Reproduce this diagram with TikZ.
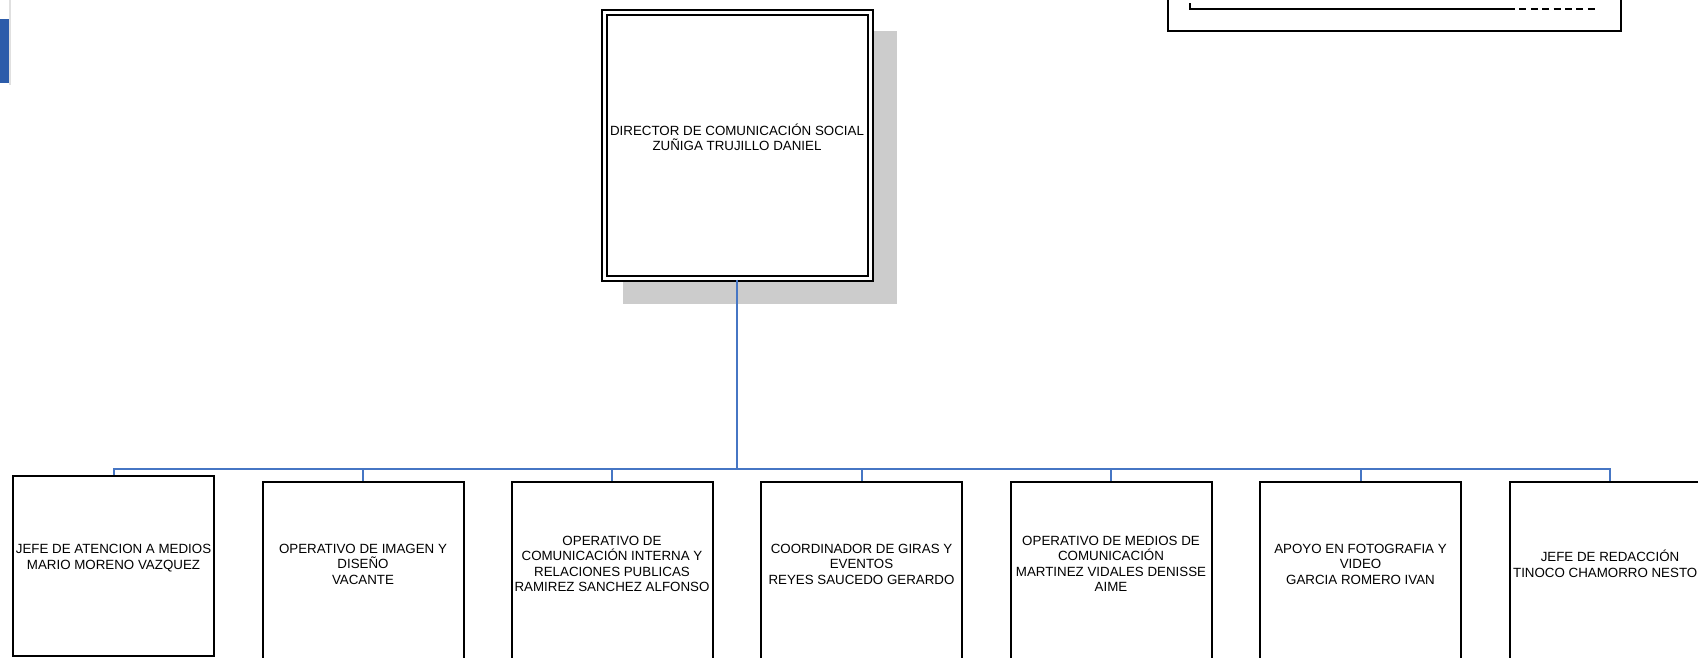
\documentclass[tikz,border=0pt]{standalone}
\usepackage{fontspec}
\setmainfont{Liberation Sans}
\usepackage{tikz}
\usetikzlibrary{calc}
\definecolor{linkblue}{RGB}{70,118,196}
\definecolor{accentblue}{RGB}{44,92,170}
\tikzset{
	postbox/.style={draw=black, fill=white, line width=1.5pt, inner sep=0pt,
		minimum width=150.75pt, minimum height=135pt, anchor=north},
	headbox/.style={draw=black, fill=white, line width=1.5pt, double=white, double distance=2.25pt,
		inner sep=0pt, minimum size=199.5pt},
	posttext/.style={align=center, font=\fontsize{10}{11.6}\selectfont, inner sep=0pt, yshift=6pt},
	link/.style={draw=linkblue, line width=1.5pt},
	legend/.style={draw=black, line width=1.4pt}
}

\begin{document}
\begin{tikzpicture}[x=0.75pt, y=-0.75pt]
		%%%%% START %%%%%
		\useasboundingbox (0, 0) rectangle (1698, 657);
		
		\fill[accentblue] (0, 19) rectangle (9, 83);
		\draw[line width=0.9pt, color=black!12] (10, 0) -- (10, 85);
		
		\draw[legend] (1168, -10) rectangle (1621, 31);
		\draw[legend] (1190, 3) -- (1190, 9) -- (1508, 9);
		\draw[legend, dash pattern=on 5.25pt off 3.3pt] (1508, 9) -- (1599, 9);
		
		\fill[black!20] (623, 31) rectangle (897, 304);
		\node[headbox, label={[posttext, name=director-t]center:DIRECTOR DE COMUNICACIÓN SOCIAL\\ZUÑIGA TRUJILLO DANIEL}] (director) at (737, 145.5) {};
		
		\node[postbox, label={[posttext, name=medios-t]center:JEFE DE ATENCION A MEDIOS\\MARIO MORENO VAZQUEZ}] (medios) at (113.5, 475) {};
		\node[postbox, label={[posttext, name=imagen-t]center:OPERATIVO DE IMAGEN Y\\DISEÑO\\VACANTE}] (imagen) at (363, 481) {};
		\node[postbox, label={[posttext, name=interna-t]center:OPERATIVO DE\\COMUNICACIÓN INTERNA Y\\RELACIONES PUBLICAS\\RAMIREZ SANCHEZ ALFONSO}] (interna) at (612, 481) {};
		\node[postbox, label={[posttext, name=giras-t]center:COORDINADOR DE GIRAS Y\\EVENTOS\\REYES SAUCEDO GERARDO}] (giras) at (861.5, 481) {};
		\node[postbox, label={[posttext, name=mediosop-t]center:OPERATIVO DE MEDIOS DE\\COMUNICACIÓN\\MARTINEZ VIDALES DENISSE\\AIME}] (mediosop) at (1111, 481) {};
		\node[postbox, label={[posttext, name=foto-t]center:APOYO EN FOTOGRAFIA Y\\VIDEO\\GARCIA ROMERO IVAN}] (foto) at (1360.5, 481) {};
		\node[postbox, label={[posttext, name=redaccion-t]center:JEFE DE REDACCIÓN\\TINOCO CHAMORRO NESTOR}] (redaccion) at (1610, 481) {};
		
		% lineas de mando
		\coordinate (bus) at (737, 469);
		\draw[link] (director.south) -- (bus);
		\draw[link] (bus) -| (medios.north);
		\draw[link] (bus) -| (imagen.north);
		\draw[link] (bus) -| (interna.north);
		\draw[link] (bus) -| (giras.north);
		\draw[link] (bus) -| (mediosop.north);
		\draw[link] (bus) -| (foto.north);
		\draw[link] (bus) -| (redaccion.north);
		
		%%%%% END %%%%%
	\end{tikzpicture}
\end{document}
